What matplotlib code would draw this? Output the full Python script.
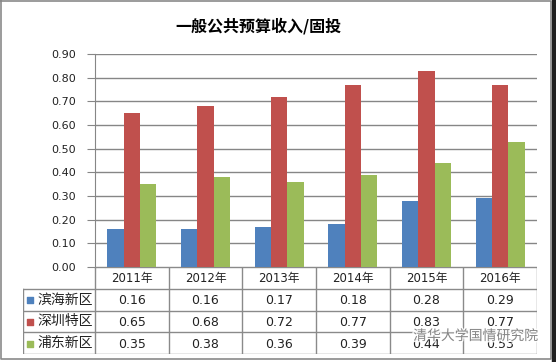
import matplotlib
matplotlib.use("Agg")
import matplotlib.pyplot as plt
import matplotlib.patheffects as pe
import numpy as np

plt.rcParams['font.family'] = ['DejaVu Sans', 'Noto Sans CJK SC']

title = "一般公共预算收入/固投"
years = ["2011年", "2012年", "2013年", "2014年", "2015年", "2016年"]
series_names = ["滨海新区", "深圳特区", "浦东新区"]
binhai = [0.16, 0.16, 0.17, 0.18, 0.28, 0.29]
shenzhen = [0.65, 0.68, 0.72, 0.77, 0.83, 0.77]
pudong = [0.35, 0.38, 0.36, 0.39, 0.44, 0.53]
yticks = [0.0, 0.1, 0.2, 0.3, 0.4, 0.5, 0.6, 0.7, 0.8, 0.9]
colors = ["#4F81BD", "#C0504D", "#9BBB59"]
watermark = "清华大学国情研究院"

W, H = 556, 362
fig = plt.figure(figsize=(W / 100, H / 100), dpi=100)
fig.patch.set_facecolor("white")

def box(x0, y0, x1, y1):
    return [x0 / W, 1 - y1 / H, (x1 - x0) / W, (y1 - y0) / H]

# Frame
frame = fig.add_axes([0, 0, 1, 1])
frame.set_xlim(0, W); frame.set_ylim(H, 0); frame.axis("off")
frame.plot([1, 551, 551, 1, 1], [1, 1, 359, 359, 1], color="#8a8a8a", lw=1.2)
frame.fill_between([551.5, 556], 0, 362, color="#202020")

ax = fig.add_axes(box(95, 54, 537, 267))
n = len(years)
x = np.arange(n) + 0.5
bw = 1 / 4.5
allv = [binhai, shenzhen, pudong]
for i, (vals, c) in enumerate(zip(allv, colors)):
    ax.bar(x + (i - 1) * bw, vals, width=bw, color=c, zorder=3)
ax.set_xlim(0, n)
ax.set_ylim(0, 0.9)
ax.set_yticks(yticks)
ax.set_yticklabels([f"{v:.2f}" for v in yticks], fontsize=8, color="#222222")
ax.set_xticks([])
ax.yaxis.grid(True, color="#868686", lw=1, zorder=0)
for s in ["top", "right", "bottom"]:
    ax.spines[s].set_visible(False)
ax.spines["left"].set_color("#868686")
ax.tick_params(axis="y", length=6, color="#868686", pad=8)

ax.set_title(title, fontsize=11.5, fontweight="bold", family=['Noto Sans CJK SC'],
             pad=16, x=0.37)

# Data table
legw = 72 / (442 / n)
tb = fig.add_axes(box(23, 267, 537, 354))
tb.set_xlim(-legw, n)
tb.set_ylim(4, 0)
tb.axis("off")
lc = "#8a8a8a"
# horizontal lines
tb.plot([0, n], [0, 0], color=lc, lw=1)
for r in [1, 2, 3, 4]:
    tb.plot([-legw, n], [r, r], color=lc, lw=1)
# vertical lines
for k in range(n + 1):
    tb.plot([k, k], [0, 4], color=lc, lw=1)
tb.plot([-legw, -legw], [1, 4], color=lc, lw=1)
for j, yl in enumerate(years):
    tb.text(j + 0.5, 0.55, yl, ha="center", va="center", fontsize=8.5, color="#222222")
for r, (name, vals, c) in enumerate(zip(series_names, allv, colors)):
    yy = r + 1.5
    tb.scatter([-legw + 0.1], [yy + 0.02], marker="s", s=22, color=c)
    tb.text(-legw + 0.2, yy, name, ha="left", va="center", fontsize=10,
            family=['Noto Sans CJK SC'], color="#222222")
    for j, v in enumerate(vals):
        tb.text(j + 0.5, yy + 0.05, f"{v:.2f}", ha="center", va="center",
                fontsize=9, color="#222222")

# watermark
fig.text(538 / W, 1 - 336 / H, watermark, ha="right", va="center", fontsize=10,
         family=['Noto Sans CJK SC'], color="#7a7a7a", alpha=0.9,
         path_effects=[pe.withStroke(linewidth=2, foreground="white")])

fig.savefig("out.png", dpi=100)
